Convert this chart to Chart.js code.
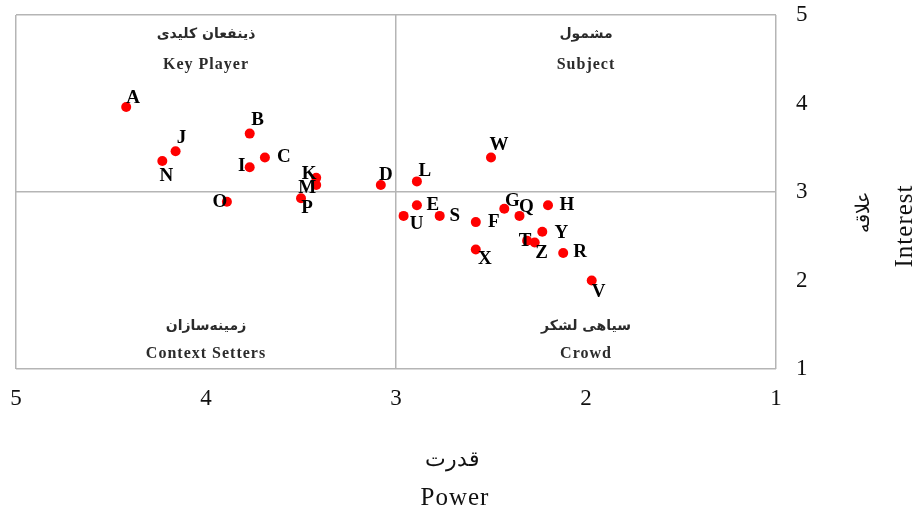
<!DOCTYPE html>
<html>
<head>
<meta charset="utf-8">
<script src="https://cdn.jsdelivr.net/npm/chart.js@4.4.0/dist/chart.umd.min.js"></script>
<style>
  body { margin: 0; background: #fff; }
</style>
</head>
<body>
<canvas id="chart" width="915" height="517"></canvas>
<script>
// stakeholder data (power vs interest)
const names    = ['A','B','C','D','E','F','G','H','I','J','K','L','M','N','O','P','Q','R','S','T','U','V','W','X','Y','Z'];
const power    = [4.42,3.77,3.69,3.08,2.89,2.58,2.43,2.20,3.77,4.16,3.42,2.89,3.42,4.23,3.89,3.50,2.35,2.12,2.77,2.31,2.96,1.97,2.50,2.58,2.23,2.27];
const interest = [3.96,3.66,3.39,3.08,2.85,2.66,2.81,2.85,3.28,3.46,3.16,3.12,3.08,3.35,2.89,2.93,2.73,2.31,2.73,2.45,2.73,2.00,3.39,2.35,2.55,2.43];

const tickValues = [1, 2, 3, 4, 5];
const quadFa = ['ذینفعان کلیدی', 'مشمول', 'زمینه‌سازان', 'سیاهی لشکر'];
const quadEn = ['Key Player', 'Subject', 'Context Setters', 'Crowd'];
const xTitle = ['قدرت', 'Power'];
const yTitle = ['علاقه', 'Interest'];

// where each letter sits relative to its dot (px)
const labelOffsets = [
  [7,-9],[8,-13],[19,0],[5,-10],[16,0],[18,0],[8,-8],[19,0],[-8,-1],[6,-13],
  [-7,-4],[8,-10],[-9,3],[4,15],[-7,0],[6,10],[7,-9],[17,-1],[15,0],[-2,0],
  [13,8],[7,12],[8,-12],[9,10],[19,1],[7,11]
];

const lineColor = '#b5b5b5';
const gridColor = c => [1, 3, 5].includes(c.tick.value) ? lineColor : 'rgba(0,0,0,0)';

function rotatedText(ctx, text, cx, cy, font, spacing) {
  ctx.save();
  ctx.font = font;
  ctx.letterSpacing = spacing;
  ctx.translate(cx, cy);
  ctx.rotate(-Math.PI / 2);
  ctx.fillText(text, 0, 0);
  ctx.restore();
}

const textPlugin = {
  id: 'textPlugin',
  afterDatasetsDraw(chart) {
    const { ctx, scales: { x, y } } = chart;
    const meta = chart.getDatasetMeta(0);
    ctx.save();
    ctx.textAlign = 'center';
    ctx.textBaseline = 'middle';

    // point letters
    ctx.fillStyle = '#000';
    ctx.font = 'bold 19px "Liberation Serif"';
    meta.data.forEach((pt, i) => {
      const [dx, dy] = labelOffsets[i];
      ctx.fillText(names[i], pt.x + dx, pt.y + dy);
    });

    // quadrant names
    const qx = [4, 2, 4, 2];
    const qyFa = [4.78, 4.78, 1.48, 1.48];
    const qyEn = [4.44, 4.44, 1.17, 1.17];
    ctx.fillStyle = '#2b2b2b';
    quadFa.forEach((t, i) => {
      ctx.font = 'bold 14px "DejaVu Sans"';
      ctx.fillText(t, x.getPixelForValue(qx[i]), y.getPixelForValue(qyFa[i]));
      ctx.font = 'bold 16px "Liberation Serif"';
      ctx.letterSpacing = '1px';
      ctx.fillText(quadEn[i], x.getPixelForValue(qx[i]), y.getPixelForValue(qyEn[i]));
      ctx.letterSpacing = '0px';
    });

    // axis titles
    ctx.fillStyle = '#111';
    ctx.font = '22px "Liberation Serif"';
    ctx.fillText(xTitle[0], 452, 460);
    ctx.font = '25px "Liberation Serif"';
    ctx.letterSpacing = '1px';
    ctx.fillText(xTitle[1], 455, 498);
    ctx.letterSpacing = '0px';

    rotatedText(ctx, yTitle[0], 864, 212, '19px "Liberation Serif"', '0px');
    rotatedText(ctx, yTitle[1], 905, 226, '25px "Liberation Serif"', '1px');
    ctx.restore();
  }
};

new Chart(document.getElementById('chart'), {
  type: 'scatter',
  data: {
    datasets: [{
      data: power.map((p, i) => ({ x: p, y: interest[i] })),
      backgroundColor: '#ff0000',
      borderWidth: 0,
      pointRadius: 5,
      pointHoverRadius: 5
    }]
  },
  options: {
    responsive: false,
    animation: false,
    layout: { padding: { left: 16, top: 15, right: 0, bottom: 0 } },
    plugins: { legend: { display: false }, tooltip: { enabled: false } },
    scales: {
      x: {
        type: 'linear',
        position: 'bottom',
        reverse: true,
        min: 1, max: 5,
        afterBuildTicks: s => { s.ticks = tickValues.map(v => ({ value: v })); },
        afterFit: s => { s.height = 148; s.paddingLeft = 0; s.paddingRight = 0; },
        ticks: { color: '#111', padding: 16, font: { family: 'Liberation Serif', size: 23 } },
        grid: { color: gridColor, lineWidth: 1.5, drawTicks: false },
        border: { display: false }
      },
      y: {
        type: 'linear',
        position: 'right',
        min: 1, max: 5,
        afterBuildTicks: s => { s.ticks = tickValues.map(v => ({ value: v })); },
        afterFit: s => { s.width = 139; s.paddingTop = 0; s.paddingBottom = 0; },
        ticks: { color: '#111', padding: 20, font: { family: 'Liberation Serif', size: 23 } },
        grid: { color: gridColor, lineWidth: 1.5, drawTicks: false },
        border: { display: false }
      }
    }
  },
  plugins: [textPlugin]
});
</script>
</body>
</html>
